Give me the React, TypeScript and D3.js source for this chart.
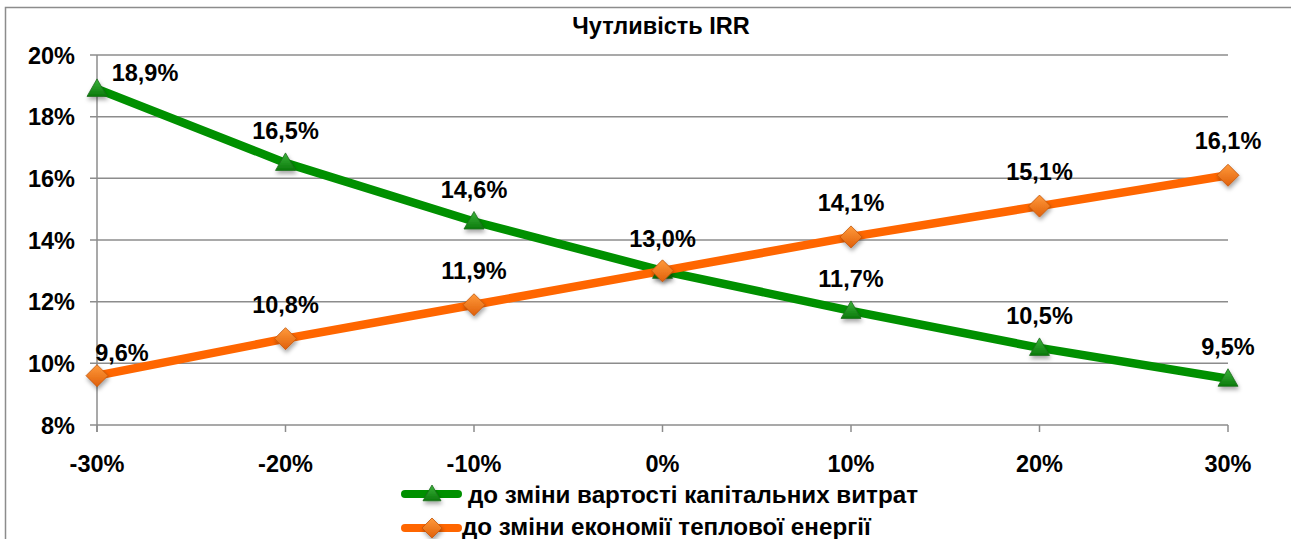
import { useMemo } from "react";
import * as d3 from "d3";

const categories = ["-30%", "-20%", "-10%", "0%", "10%", "20%", "30%"];
const capexSeries = [18.9, 16.5, 14.6, 13.0, 11.7, 10.5, 9.5];
const heatSeries = [9.6, 10.8, 11.9, 13.0, 14.1, 15.1, 16.1];
const yTicks = [8, 10, 12, 14, 16, 18, 20];
const seriesNames = [
  "до зміни вартості капітальних витрат",
  "до зміни економії теплової енергії",
];

const WIDTH = 1291;
const HEIGHT = 539;
const FONT = "'Liberation Sans', Arial, sans-serif";
const FS = 23.5;
const LEGEND_FS = 24.2;
const GREEN = "#009000";
const ORANGE = "#ff6600";

const fmt = (v: number) => v.toFixed(1).replace(".", ",") + "%";

const Triangle = ({ x, y, s = 10 }: { x: number; y: number; s?: number }) => (
  <path
    d={`M${x},${y - s} L${x + s},${y + s * 0.75} L${x - s},${y + s * 0.75} Z`}
    fill="url(#gGreen)"
    stroke="#1d6b1d"
    strokeWidth={0.8}
    filter="url(#shadow)"
  />
);

const Diamond = ({ x, y, s = 11 }: { x: number; y: number; s?: number }) => (
  <path
    d={`M${x},${y - s} L${x + s},${y} L${x},${y + s} L${x - s},${y} Z`}
    fill="url(#gOrange)"
    stroke="#c0540a"
    strokeWidth={0.8}
    filter="url(#shadow)"
  />
);

export default function App() {
  const x = useMemo(
    () => d3.scalePoint<string>().domain(categories).range([97, 1228]),
    []
  );
  const y = useMemo(() => d3.scaleLinear().domain([8, 20]).range([425, 55]), []);

  const line = d3
    .line<number>()
    .x((_, i) => x(categories[i]) as number)
    .y((d) => y(d));

  const px = (i: number) => x(categories[i]) as number;

  return (
    <svg
      width={WIDTH}
      height={HEIGHT}
      style={{ position: "absolute", left: 0, top: 0, background: "#fff" }}
      fontFamily={FONT}
    >
      <defs>
        <linearGradient id="gGreen" x1="0" y1="0" x2="0" y2="1">
          <stop offset="0%" stopColor="#3cb33c" />
          <stop offset="100%" stopColor="#0b7a0b" />
        </linearGradient>
        <linearGradient id="gOrange" x1="0" y1="0" x2="0" y2="1">
          <stop offset="0%" stopColor="#ff9a3c" />
          <stop offset="100%" stopColor="#e0600a" />
        </linearGradient>
        <filter id="shadow" x="-50%" y="-50%" width="200%" height="200%">
          <feDropShadow dx="1" dy="3" stdDeviation="2" floodColor="#000" floodOpacity="0.35" />
        </filter>
      </defs>

      <rect x={5.5} y={7.5} width={WIDTH + 10} height={HEIGHT + 10} fill="#fff" stroke="#8c8c8c" strokeWidth={1.5} />

      <text x={661} y={34} textAnchor="middle" fontSize={FS} fontWeight="bold">
        Чутливість IRR
      </text>

      {yTicks.map((t) => (
        <g key={t}>
          <line x1={90} x2={1228} y1={y(t)} y2={y(t)} stroke="#8c8c8c" strokeWidth={1.5} />
          <text x={75} y={y(t) + 8.5} textAnchor="end" fontSize={FS} fontWeight="bold">
            {t}%
          </text>
        </g>
      ))}
      <line x1={97} x2={97} y1={y(20)} y2={y(8) + 7} stroke="#8c8c8c" strokeWidth={1.5} />
      {categories.map((c) => (
        <g key={c}>
          <line x1={x(c)} x2={x(c)} y1={y(8)} y2={y(8) + 7} stroke="#8c8c8c" strokeWidth={1.5} />
          <text x={x(c)} y={472} textAnchor="middle" fontSize={FS} fontWeight="bold">
            {c}
          </text>
        </g>
      ))}

      <path d={line(capexSeries) ?? ""} fill="none" stroke={GREEN} strokeWidth={8.5} />
      <path d={line(heatSeries) ?? ""} fill="none" stroke={ORANGE} strokeWidth={8.5} />

      {capexSeries.map((v, i) => (
        <Triangle key={"t" + i} x={px(i)} y={y(v)} />
      ))}
      {heatSeries.map((v, i) => (
        <Diamond key={"d" + i} x={px(i)} y={y(v)} />
      ))}

      {capexSeries.map((v, i) => (
        <text
          key={"lc" + i}
          x={i === 0 ? px(i) + 48 : px(i)}
          y={i === 0 ? y(v) - 8 : y(v) - 24}
          textAnchor="middle"
          fontSize={FS}
          fontWeight="bold"
        >
          {fmt(v)}
        </text>
      ))}
      {heatSeries.map((v, i) =>
        // the shared 0% point carries one label in the reference
        v === capexSeries[i] ? null : (
          <text
            key={"lh" + i}
            x={i === 0 ? px(i) + 25 : px(i)}
            y={i === 0 ? y(v) - 15 : y(v) - 26}
            textAnchor="middle"
            fontSize={FS}
            fontWeight="bold"
          >
            {fmt(v)}
          </text>
        )
      )}

      <g>
        <line x1={405} x2={458} y1={494} y2={494} stroke={GREEN} strokeWidth={8} strokeLinecap="round" />
        <Triangle x={432} y={494} s={9} />
        <text x={468} y={503} fontSize={LEGEND_FS} fontWeight="bold">
          {seriesNames[0]}
        </text>
        <line x1={405} x2={458} y1={528} y2={528} stroke={ORANGE} strokeWidth={8} strokeLinecap="round" />
        <Diamond x={432} y={528} s={10} />
        <text x={462} y={535} fontSize={LEGEND_FS} fontWeight="bold">
          {seriesNames[1]}
        </text>
      </g>
    </svg>
  );
}
